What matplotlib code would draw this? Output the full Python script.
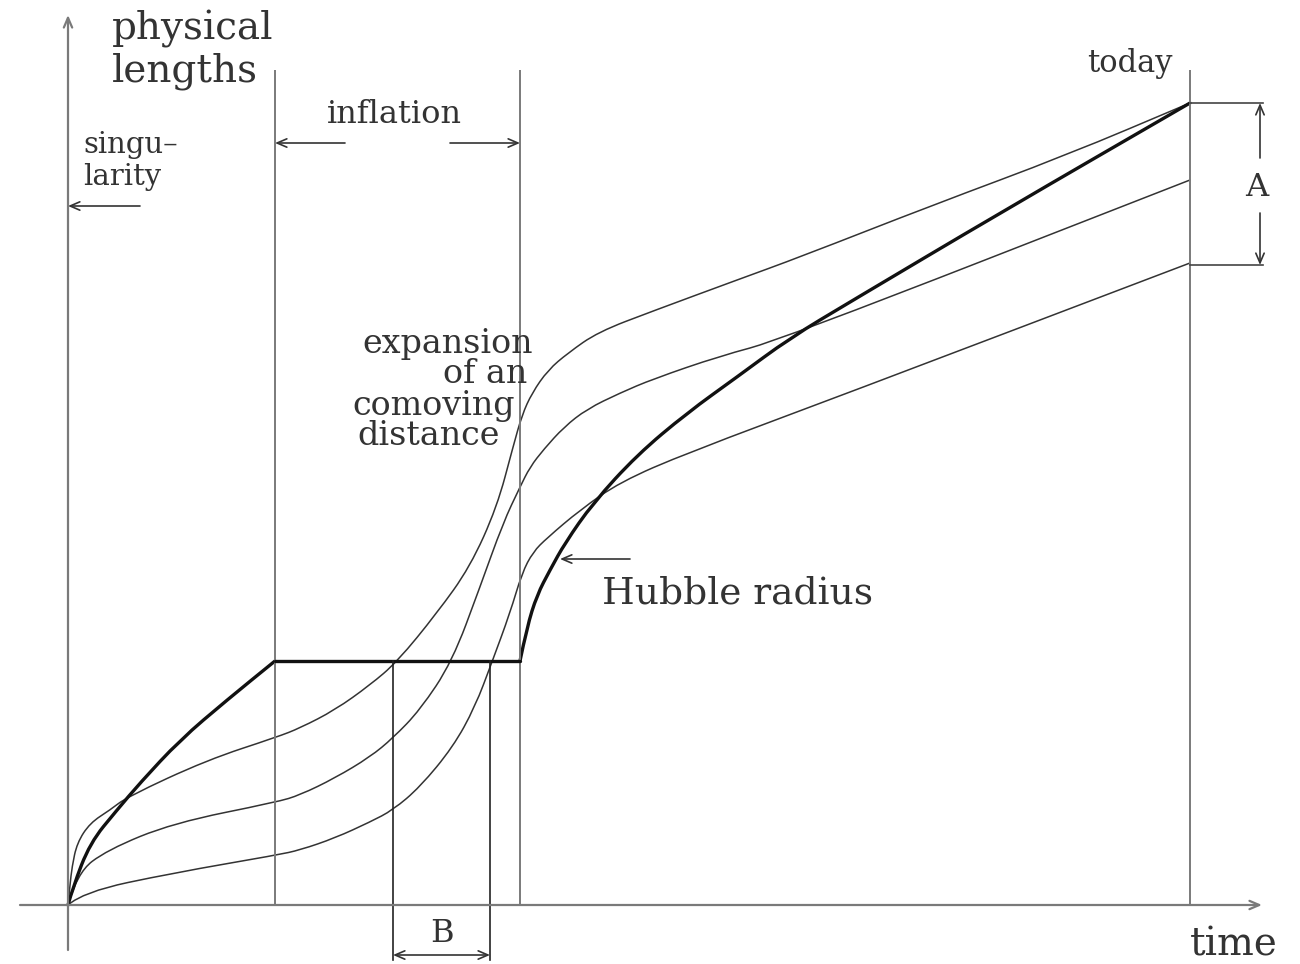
import numpy as np
import matplotlib
matplotlib.use("Agg")
import matplotlib.pyplot as plt
from matplotlib.path import Path
from matplotlib.patches import PathPatch

# ---------------- data (time t, physical length L) ----------------
hubble_pre_t = [0, 5, 22, 49, 72, 112, 159, 207]
hubble_pre_L = [0, 18, 62, 95, 122, 165, 205, 244]
inflation_t = [207, 452]
inflation_L = [244, 244]
hubble_post_t = [452, 459, 469, 482, 497, 525, 569, 619, 669, 722, 782, 932, 1122]
hubble_post_L = [244, 278, 310, 335, 362, 402, 450, 492, 528, 567, 603, 692, 802]

comoving1_t = [0, 2, 4, 9, 22, 42, 59, 139, 209, 232, 267, 302, 329, 369, 402, 429, 445, 454, 464,
               480, 500, 530, 585, 669, 732, 865, 999, 1122]
comoving1_L = [0, 20, 38, 62, 82, 95, 108, 145, 168, 177, 195, 220, 243, 292, 338, 398, 458, 490, 512,
               535, 552, 573, 594, 625, 648, 700, 750, 802]
comoving2_t = [0, 9, 39, 105, 209, 232, 267, 302, 325, 352, 384, 412, 435, 452, 462, 476, 496, 519,
               552, 585, 652, 712, 1122]
comoving2_L = [0, 32, 55, 82, 103, 110, 127, 148, 167, 195, 243, 318, 382, 418, 438, 456, 478, 496,
               512, 526, 549, 565, 725]
comoving3_t = [0, 15, 105, 209, 232, 267, 302, 325, 352, 385, 407, 424, 442, 454, 465, 479, 512, 552,
               619, 772, 1122]
comoving3_L = [0, 13, 32, 50, 55, 67, 83, 95, 118, 158, 198, 243, 292, 332, 353, 367, 395, 423,
               452, 509, 642]

t_inflation_start = 207
t_inflation_end = 452
t_today = 1122
L_hubble_flat = 244
B_t = [325, 422]          # modes crossing the Hubble radius during inflation
A_L = [802, 640]          # range of today's lengths

# ---------------- figure ----------------
W, H = 1300, 964
fig = plt.figure(figsize=(W / 100, H / 100), dpi=100)
ax = fig.add_axes([0, 0, 1, 1])
ax.set_xlim(-68, 1232)
ax.set_ylim(-59, 905)
ax.axis("off")

FONT = "DejaVu Serif"
TXT = "#333333"
GRID = "#7a7a7a"
THIN = "#333333"
ARR = dict(arrowstyle="->,head_length=0.7,head_width=0.3", lw=1.2, color=TXT,
           shrinkA=0, shrinkB=0)


def smooth(xs, ys, **kw):
    pts = np.column_stack([xs, ys]).astype(float)
    verts = [pts[0]]
    codes = [Path.MOVETO]
    for i in range(1, len(pts) - 1):
        mid = (pts[i] + pts[i + 1]) / 2
        verts += [pts[i], mid]
        codes += [Path.CURVE3, Path.CURVE3]
    verts.append(pts[-1])
    codes.append(Path.LINETO)
    ax.add_patch(PathPatch(Path(verts, codes), fill=False, capstyle="round",
                           joinstyle="round", **kw))


# axes
ax.annotate("", xy=(1194, 0), xytext=(-48, 0),
            arrowprops=dict(ARR, color=GRID, lw=1.6))
ax.annotate("", xy=(0, 890), xytext=(0, -45),
            arrowprops=dict(ARR, color=GRID, lw=1.6))

# vertical epoch lines
for tv in (t_inflation_start, t_inflation_end, t_today):
    ax.plot([tv, tv], [0, 835], color=GRID, lw=1.4, solid_capstyle="butt")

# comoving distances
for ct, cL in ((comoving1_t, comoving1_L), (comoving2_t, comoving2_L), (comoving3_t, comoving3_L)):
    smooth(ct, cL, edgecolor=THIN, lw=1.1)

# Hubble radius
smooth(hubble_pre_t, hubble_pre_L, edgecolor="#111111", lw=2.4)
ax.plot(inflation_t, inflation_L, color="#111111", lw=2.4, solid_capstyle="round")
smooth(hubble_post_t, hubble_post_L, edgecolor="#111111", lw=2.4)

# B bracket
for bt in B_t:
    ax.plot([bt, bt], [L_hubble_flat, -55], color="#222222", lw=1.2)
ax.annotate("", xy=(B_t[0], -50), xytext=(B_t[1], -50),
            arrowprops=dict(ARR, arrowstyle="<->,head_length=0.7,head_width=0.3"))
ax.text(sum(B_t) / 2, -28, "B", family=FONT, fontsize=23, color=TXT, ha="center", va="center")

# A bracket
for aL in A_L:
    ax.plot([t_today, 1195], [aL, aL], color="#444444", lw=1.2)
ax.annotate("", xy=(1192, A_L[0]), xytext=(1192, 747), arrowprops=ARR)
ax.annotate("", xy=(1192, A_L[1]), xytext=(1192, 692), arrowprops=ARR)
ax.text(1189, 718, "A", family=FONT, fontsize=23, color=TXT, ha="center", va="center")

# annotation arrows
ax.annotate("", xy=(0, 699), xytext=(72, 699), arrowprops=ARR)
ax.annotate("", xy=(t_inflation_start, 762), xytext=(277, 762), arrowprops=ARR)
ax.annotate("", xy=(t_inflation_end, 762), xytext=(382, 762), arrowprops=ARR)
ax.annotate("", xy=(492, 346), xytext=(562, 346), arrowprops=ARR)

# labels
def lab(x, y, s, size):
    ax.text(x, y, s, family=FONT, fontsize=size, color=TXT, ha="left", va="baseline")

lab(44, 865, "physical", 28)
lab(44, 823, "lengths", 28)
lab(15, 752, "singu\u2013", 21)
lab(15, 720, "larity", 21)
lab(259, 782, "inflation", 23)
lab(1019, 833, "today", 22)
lab(294, 552, "expansion", 24)
lab(375, 522, "of an", 24)
lab(284, 490, "comoving", 24)
lab(289, 460, "distance", 24)
lab(534, 302, "Hubble radius", 27)
lab(1122, -50, "time", 28)

fig.savefig("out.png", dpi=100, facecolor="white")
